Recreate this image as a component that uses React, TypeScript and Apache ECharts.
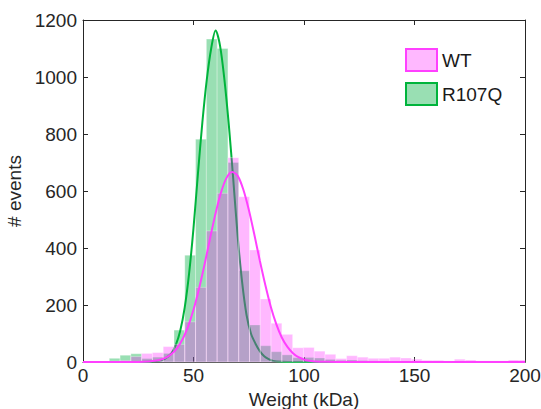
import React, { useEffect, useRef } from "react";
import * as echarts from "echarts";

// Histogram bin edges (kDa), shared by both samples
const binEdges = [
  11.9, 16.78, 21.66, 26.54, 31.42, 36.3, 41.18, 46.06, 50.94, 55.82, 60.7,
  65.58, 70.46, 75.34, 80.22, 85.1, 89.98, 94.86, 99.74, 104.62, 109.5,
  114.38, 119.26, 124.14, 129.02, 133.9, 138.78, 143.66, 148.54, 153.42,
  158.3, 163.18, 168.06, 172.94, 177.82, 182.7, 187.58, 192.46, 197.34, 202.22,
];

// # events per bin
const wtCounts = [
  3, 5, 19, 30, 33, 54, 62, 141, 262, 460, 592, 717, 580, 393, 221, 136, 97,
  50, 51, 38, 27, 12, 22, 17, 13, 13, 17, 14, 10, 6, 6, 4, 10, 7, 4, 4, 4, 7, 7,
];
const r107qCounts = [
  13, 24, 29, 12, 17, 30, 112, 375, 782, 1133, 1100, 700, 320, 130, 57, 36,
  25, 15, 16, 14, 9, 6, 7, 5, 4, 3, 3, 3, 2, 2, 2, 1, 2, 1, 1, 1, 1, 1, 1,
];

// Fitted curves
const wtFitX = [
  0, 20, 25, 30, 32.5, 35, 37.5, 40, 42.5, 45, 47.5, 50, 52.5, 55, 57.5, 60,
  62.5, 65, 67.5, 70, 72.5, 75, 77.5, 80, 82.5, 85, 87.5, 90, 92.5, 95, 97.5,
  100, 102.5, 105, 110, 115, 200,
];
const wtFitY = [
  0, 0, 0.3, 2, 4, 8, 15, 28, 48, 79, 123, 183, 257, 342, 434, 522, 596, 647,
  667, 653, 606, 535, 448, 356, 270, 193, 132, 85, 53, 31, 17, 9, 4.5, 2, 0.5,
  0, 0,
];
const r107qFitX = [
  0, 20, 30, 34, 37, 40, 42, 44, 46, 48, 50, 52, 54, 56, 58, 60, 62, 64, 66,
  68, 70, 72, 74, 76, 78, 80, 82, 84, 86, 90, 95, 200,
];
const r107qFitY = [
  0, 0, 1, 4, 11, 30, 60, 110, 190, 310, 470, 660, 840, 990, 1100, 1163, 1110,
  990, 830, 640, 440, 280, 165, 100, 65, 38, 20, 10, 4, 1, 0, 0,
];

const xTicks = { min: 0, max: 200, interval: 50 };
const yTicks = { min: 0, max: 1200, interval: 200 };

const FONT = "'Liberation Sans', Arial, Helvetica, sans-serif";
const AXIS_COLOR = "#262626";

function histData(counts: number[]) {
  return counts.map((c, i) => [binEdges[i], binEdges[i + 1], c]);
}

function fitData(xs: number[], ys: number[]) {
  return xs.map((x, i) => [x, ys[i]]);
}

function makeRender(fill: string) {
  return (params: any, api: any) => {
    const x0 = api.value(0);
    const x1 = api.value(1);
    const y = api.value(2);
    const p0 = api.coord([x0, y]);
    const p1 = api.coord([x1, 0]);
    const cs = params.coordSys;
    const shape = echarts.graphic.clipRectByRect(
      { x: p0[0], y: p0[1], width: p1[0] - p0[0], height: p1[1] - p0[1] },
      { x: cs.x, y: cs.y, width: cs.width, height: cs.height }
    );
    if (!shape) return null;
    return {
      type: "rect",
      shape,
      style: { fill, stroke: "rgba(255,255,255,0.45)", lineWidth: 0.7 },
    };
  };
}

const plain = (v: number) => String(v);

export default function App() {
  const ref = useRef<HTMLDivElement>(null);
  useEffect(() => {
    document.body.style.margin = "0";
    if (!ref.current) return;
    const chart = echarts.init(ref.current, null, { renderer: "svg" });
    const axisCommon = {
      axisLine: { show: true, onZero: false, lineStyle: { color: AXIS_COLOR, width: 1 } },
      axisTick: { show: true, inside: true, length: 5, lineStyle: { color: AXIS_COLOR } },
      splitLine: { show: false },
    };
    chart.setOption({
      animation: false,
      textStyle: { fontFamily: FONT },
      grid: {
        left: 83,
        right: 16,
        top: 20,
        bottom: 47,
        containLabel: false,
        outerBoundsMode: "none",
      },
      legend: {
        orient: "vertical",
        left: 400,
        top: 43,
        itemWidth: 31,
        itemHeight: 22,
        itemGap: 10,
        selectedMode: false,
        textStyle: { fontSize: 19, color: "#1a1a1a", fontFamily: FONT },
        data: [
          {
            name: "WT",
            icon: "rect",
            itemStyle: { color: "rgba(255,0,255,0.28)", borderColor: "#ff40ff", borderWidth: 2 },
          },
          {
            name: "R107Q",
            icon: "rect",
            itemStyle: { color: "rgba(0,176,64,0.4)", borderColor: "#00b43c", borderWidth: 2 },
          },
        ],
      },
      xAxis: [
        {
          type: "value",
          position: "bottom",
          ...xTicks,
          ...axisCommon,
          name: "Weight (kDa)",
          nameLocation: "middle",
          nameGap: 23,
          nameTextStyle: { fontSize: 19, color: AXIS_COLOR, fontFamily: FONT },
          axisLabel: { fontSize: 19, color: AXIS_COLOR, margin: 4, fontFamily: FONT, formatter: plain },
        },
        {
          type: "value",
          position: "top",
          ...xTicks,
          ...axisCommon,
          axisLabel: { show: false },
        },
      ],
      yAxis: [
        {
          type: "value",
          position: "left",
          ...yTicks,
          ...axisCommon,
          name: "# events",
          nameLocation: "middle",
          nameGap: 52,
          nameTextStyle: { fontSize: 19, color: AXIS_COLOR, fontFamily: FONT },
          axisLabel: { fontSize: 19, color: AXIS_COLOR, margin: 6, fontFamily: FONT, formatter: plain },
        },
        {
          type: "value",
          position: "right",
          ...yTicks,
          ...axisCommon,
          axisLabel: { show: false },
        },
      ],
      series: [
        {
          type: "custom",
          name: "R107Q",
          z: 1,
          renderItem: makeRender("rgba(0,176,64,0.4)"),
          encode: { x: [0, 1], y: 2 },
          data: histData(r107qCounts),
        },
        {
          type: "line",
          name: "R107Q fit",
          z: 2,
          smooth: 0.3,
          showSymbol: false,
          symbol: "none",
          lineStyle: { color: "#00b43c", width: 2 },
          data: fitData(r107qFitX, r107qFitY),
        },
        {
          type: "custom",
          name: "WT",
          z: 3,
          renderItem: makeRender("rgba(255,0,255,0.28)"),
          encode: { x: [0, 1], y: 2 },
          data: histData(wtCounts),
        },
        {
          type: "line",
          name: "WT fit",
          z: 4,
          smooth: 0.3,
          showSymbol: false,
          symbol: "none",
          lineStyle: { color: "#ff40ff", width: 2 },
          data: fitData(wtFitX, wtFitY),
        },
      ],
    });
    return () => chart.dispose();
  }, []);
  return (
    <div
      ref={ref}
      style={{ position: "fixed", left: 0, top: 0, width: 541, height: 409, background: "#fff" }}
    />
  );
}
